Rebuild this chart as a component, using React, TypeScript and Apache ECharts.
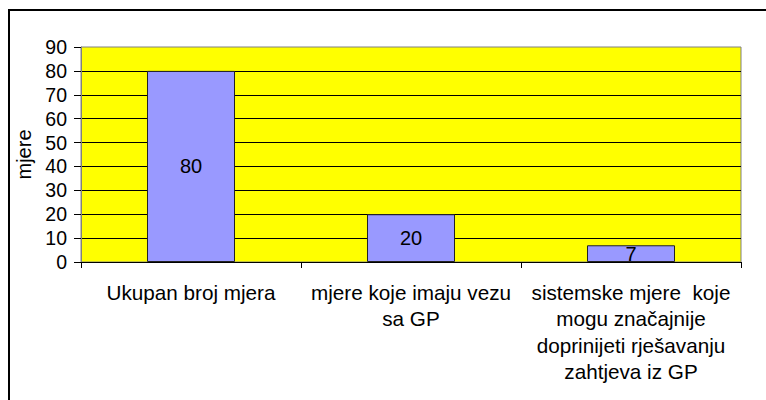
import React, { useEffect, useRef } from "react";
import * as echarts from "echarts";

const categories = [
  "Ukupan broj mjera",
  "mjere koje imaju vezu\nsa GP",
  "sistemske mjere  koje\nmogu značajnije\ndoprinijeti rješavanju\nzahtjeva iz GP",
];
const values = [80, 20, 7];
const yAxisName = "mjere";

const FONT = "'Liberation Sans', Arial, sans-serif";

export default function App() {
  const ref = useRef<HTMLDivElement>(null);
  useEffect(() => {
    const chart = echarts.init(ref.current!, null, { renderer: "svg" });
    chart.setOption({
      animation: false,
      backgroundColor: "#ffffff",
      textStyle: { fontFamily: FONT, color: "#000" },
      graphic: [
        {
          type: "rect",
          shape: { x: 9, y: 10, width: 800, height: 500 },
          style: { fill: "none", stroke: "#000", lineWidth: 2 },
          silent: true,
          z: 100,
        },
      ],
      grid: {
        left: 81,
        top: 47,
        right: 25,
        bottom: 138,
        show: true,
        backgroundColor: "#FFFF00",
        borderColor: "#808080",
        borderWidth: 1,
      },
      xAxis: {
        type: "category",
        data: categories,
        axisLine: { show: true, lineStyle: { color: "#000", width: 1 } },
        axisTick: { show: true, length: 6, lineStyle: { color: "#000" } },
        axisLabel: {
          color: "#000",
          fontSize: 20.7,
          fontFamily: FONT,
          lineHeight: 26.5,
          margin: 17,
          interval: 0,
          align: "center",
        },
      },
      yAxis: {
        type: "value",
        min: 0,
        max: 90,
        interval: 10,
        name: yAxisName,
        nameLocation: "middle",
        nameRotate: 90,
        nameGap: 46,
        nameTextStyle: { color: "#000", fontSize: 20, fontFamily: FONT },
        axisLine: { show: true, lineStyle: { color: "#808080", width: 1 } },
        axisTick: { show: true, length: 7, lineStyle: { color: "#000" } },
        axisLabel: { color: "#000", fontSize: 19.5, fontFamily: FONT, margin: 14 },
        splitLine: {
          show: true,
          showMaxLine: false,
          lineStyle: { color: "#000", width: 1 },
        },
      },
      series: [
        {
          type: "bar",
          data: values,
          barWidth: "40%",
          itemStyle: { color: "#9999FF", borderColor: "#222222", borderWidth: 1 },
          label: {
            show: true,
            position: "inside",
            color: "#000",
            fontSize: 20,
            fontFamily: FONT,
          },
        },
      ],
    });
    return () => chart.dispose();
  }, []);
  return (
    <div
      ref={ref}
      style={{ position: "absolute", left: 0, top: 0, width: 766, height: 400 }}
    />
  );
}
